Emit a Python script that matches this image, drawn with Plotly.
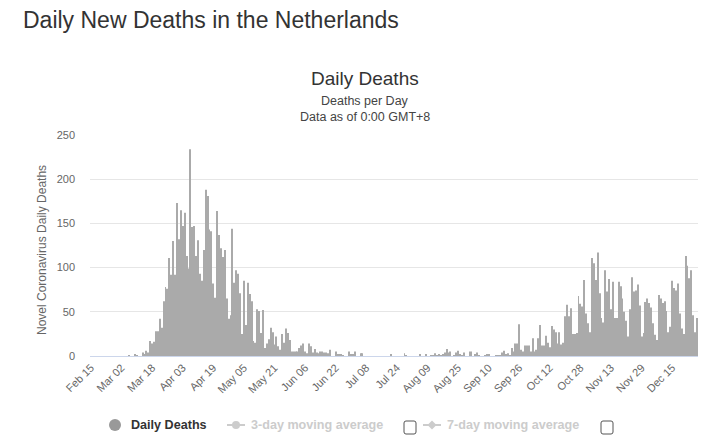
import pandas as pd
import plotly.graph_objects as go

# ---- data (daily new deaths, Netherlands, 2020) ----
start_date = "2020-02-15"
feb = [0] * 15  # Feb 15 - Feb 29
mar = [0, 0, 0, 0, 0, 1, 0, 0, 2, 1, 0, 0, 4, 2, 6, 4, 17, 14, 16, 28, 28, 42, 32, 62, 78, 76,
       111, 92, 130, 92, 173]
apr = [132, 165, 147, 162, 113, 99, 234, 146, 147, 113, 131, 93, 85, 120, 188, 181, 143, 141, 82,
       66, 164, 137, 122, 112, 120, 65, 42, 46, 144, 83]
may = [97, 93, 71, 25, 85, 35, 83, 70, 62, 17, 15, 53, 51, 26, 52, 9, 14, 19, 32, 27, 13, 22, 11,
       7, 25, 15, 31, 26, 18, 5, 5]
jun = [5, 5, 9, 12, 14, 5, 3, 14, 11, 4, 8, 4, 3, 5, 5, 4, 4, 3, 7, 0, 0, 5, 2, 2, 2, 1, 0, 0, 5, 2]
jul = [2, 5, 0, 0, 3, 3, 0, 0, 0, 0, 0, 0, 0, 0, 0, 0, 0, 0, 0, 0, 2, 0, 0, 0, 0, 0, 0, 3, 1, 0, 0]
aug = [0, 0, 0, 0, 2, 0, 0, 2, 0, 0, 1, 1, 3, 1, 2, 1, 2, 4, 8, 4, 5, 0, 1, 4, 6, 2, 1, 4, 0, 0, 5]
sep = [5, 0, 2, 4, 1, 0, 0, 1, 2, 2, 0, 0, 0, 1, 1, 1, 4, 6, 2, 3, 1, 9, 5, 14, 14, 36, 7, 5, 12, 12]
oct_ = [12, 5, 20, 5, 7, 20, 35, 12, 12, 23, 15, 10, 34, 30, 27, 14, 27, 13, 15, 45, 58, 45, 54,
        25, 25, 26, 68, 59, 56, 86, 48]
nov = [37, 27, 111, 105, 86, 117, 71, 43, 38, 97, 73, 87, 53, 84, 43, 43, 84, 79, 65, 50, 40, 22,
       53, 89, 73, 74, 81, 57, 22, 26]
dec = [61, 65, 60, 55, 37, 24, 18, 69, 65, 60, 62, 51, 27, 33, 85, 77, 74, 82, 48, 31, 25, 113,
       102, 88, 97, 46, 27, 43]

daily_deaths = feb + mar + apr + may + jun + jul + aug + sep + oct_ + nov + dec
dates = pd.date_range(start_date, periods=len(daily_deaths), freq="D")
tick_dates = pd.date_range(start_date, dates[-1], freq="16D")
y_ticks = [0, 50, 100, 150, 200, 250]

title_text = "Daily New Deaths in the Netherlands"
chart_title = "Daily Deaths"
subtitle_1 = "Deaths per Day"
subtitle_2 = "Data as of 0:00 GMT+8"
y_title = "Novel Coronavirus Daily Deaths"
legend_labels = ["Daily Deaths", "3-day moving average", "7-day moving average"]

# ---- layout geometry (pixels, in window coordinates; page body has an 8px margin) ----
OFF = 8
W, H = 720 - OFF, 445 - OFF
PL, PR, PT, PB = 90, 698, 135, 356


def px(x):
    return (x - PL) / (PR - PL)


def py(y):
    return (PB - y) / (PB - PT)


FONT = "Liberation Sans, Arial, sans-serif"

fig = go.Figure()
fig.add_trace(go.Bar(x=dates, y=daily_deaths, marker=dict(color="#aaaaaa", line=dict(width=0)),
                     name=legend_labels[0], showlegend=False))

annotations = [
    dict(text=title_text, x=px(21), y=py(20), xanchor="left", yanchor="middle",
         font=dict(size=23, color="#333333", family=FONT)),
    dict(text=chart_title, x=px(365), y=py(78), xanchor="center", yanchor="middle",
         font=dict(size=19, color="#333333", family=FONT)),
    dict(text=subtitle_1, x=px(365), y=py(101), xanchor="center", yanchor="middle",
         font=dict(size=12.5, color="#444444", family=FONT)),
    dict(text=subtitle_2, x=px(365), y=py(117), xanchor="center", yanchor="middle",
         font=dict(size=12.5, color="#444444", family=FONT)),
    dict(text=y_title, x=px(42), y=py(250), xanchor="center", yanchor="middle", textangle=-90,
         font=dict(size=12, color="#666666", family=FONT)),
    dict(text="<b>" + legend_labels[0] + "</b>", x=px(129), y=py(425), xanchor="left",
         yanchor="middle", font=dict(size=12.6, color="#333333", family=FONT)),
    dict(text="<b>" + legend_labels[1] + "</b>", x=px(249), y=py(425), xanchor="left",
         yanchor="middle", font=dict(size=12.6, color="#cccccc", family=FONT)),
    dict(text="<b>" + legend_labels[2] + "</b>", x=px(445), y=py(425), xanchor="left",
         yanchor="middle", font=dict(size=12.6, color="#cccccc", family=FONT)),
]
for a in annotations:
    a.update(xref="paper", yref="paper", showarrow=False)


def rounded_box(x0, y0, x1, y1, r=2):
    X0, X1 = px(x0), px(x1)
    Y0, Y1 = py(y0), py(y1)
    rx = r / (PR - PL)
    ry = r / (PB - PT)
    return (f"M{X0 + rx},{Y0} L{X1 - rx},{Y0} Q{X1},{Y0} {X1},{Y0 - ry} "
            f"L{X1},{Y1 + ry} Q{X1},{Y1} {X1 - rx},{Y1} L{X0 + rx},{Y1} "
            f"Q{X0},{Y1} {X0},{Y1 + ry} L{X0},{Y0 - ry} Q{X0},{Y0} {X0 + rx},{Y0} Z")


shapes = [
    dict(type="circle", x0=px(109), x1=px(121), y0=py(419), y1=py(431),
         fillcolor="#999999", line=dict(width=0)),
    dict(type="line", x0=px(227), x1=px(245), y0=py(425), y1=py(425),
         line=dict(color="#cccccc", width=2)),
    dict(type="circle", x0=px(232), x1=px(240), y0=py(421), y1=py(429),
         fillcolor="#cccccc", line=dict(width=0)),
    dict(type="line", x0=px(423), x1=px(441), y0=py(425), y1=py(425),
         line=dict(color="#cccccc", width=2)),
    dict(type="path",
         path=f"M{px(432)},{py(420.5)} L{px(436.5)},{py(425)} L{px(432)},{py(429.5)} "
              f"L{px(427.5)},{py(425)} Z",
         fillcolor="#cccccc", line=dict(width=0)),
    dict(type="path", path=rounded_box(404, 421, 416, 434), line=dict(color="#555555", width=1),
         fillcolor="white"),
    dict(type="path", path=rounded_box(601, 421, 613, 434), line=dict(color="#555555", width=1),
         fillcolor="white"),
]
for s in shapes:
    s.update(xref="paper", yref="paper")

fig.update_layout(
    width=W, height=H,
    margin=dict(l=PL - OFF, r=720 - PR, t=PT - OFF, b=445 - PB),
    paper_bgcolor="white", plot_bgcolor="white",
    bargap=0.5,
    showlegend=False,
    annotations=annotations,
    shapes=shapes,
    font=dict(family=FONT),
    xaxis=dict(
        type="date",
        range=[dates[0] - pd.Timedelta(hours=12), dates[-1] + pd.Timedelta(hours=12)],
        tickmode="array", tickvals=list(tick_dates), tickformat="%b %d",
        tickangle=-45, tickfont=dict(size=11, color="#666666", family=FONT),
        showgrid=False, showline=True, linecolor="#ccd6eb", linewidth=1,
        ticks="", zeroline=False, fixedrange=True,
    ),
    yaxis=dict(
        range=[0, 250], tickmode="array", tickvals=y_ticks,
        tickfont=dict(size=11, color="#666666", family=FONT),
        showgrid=True, gridcolor="#e6e6e6", gridwidth=1,
        zeroline=False, showline=False, ticks="", ticklen=0,
        ticklabelstandoff=14,
        fixedrange=True,
    ),
)

fig.write_html("out.html")
